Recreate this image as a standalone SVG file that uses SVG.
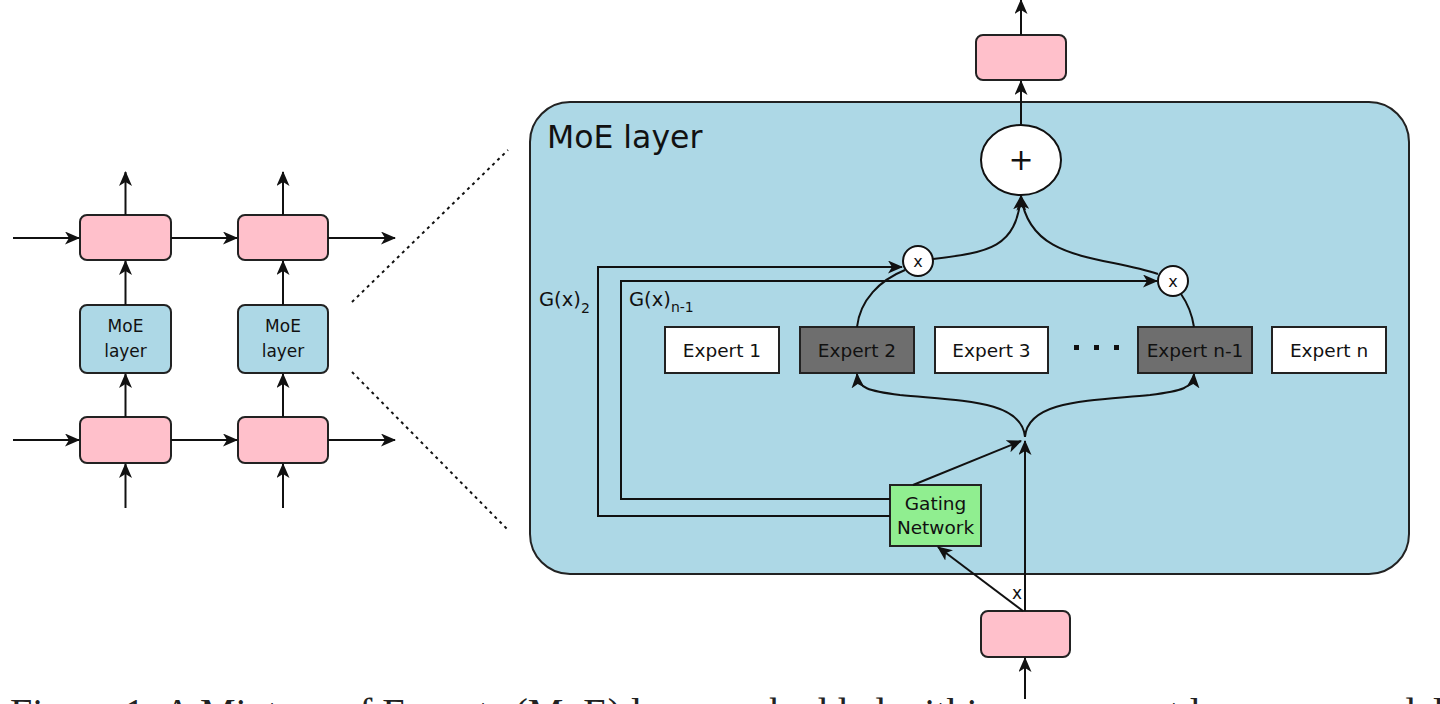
<svg xmlns="http://www.w3.org/2000/svg" width="1440" height="704" viewBox="0 0 1440 704">
<defs>
<marker id="ah" viewBox="0 0 15 13" refX="14" refY="6.5" markerWidth="15" markerHeight="13" markerUnits="userSpaceOnUse" orient="auto">
<path d="M0,0 L15,6.5 L0,13 L4,6.5 z" fill="#111"/>
</marker>
<style>
.ln{fill:none;stroke:#111;stroke-width:2}
.arr{fill:none;stroke:#111;stroke-width:2;marker-end:url(#ah)}
.pink{fill:#FFC0CB;stroke:#222;stroke-width:2}
.blue{fill:#ADD8E6;stroke:#222;stroke-width:2}
.exp{fill:#fff;stroke:#222;stroke-width:2}
.expd{fill:#6E6E6E;stroke:#222;stroke-width:2}
.t{font-family:"DejaVu Sans",sans-serif;fill:#111}
.dot{fill:none;stroke:#111;stroke-width:2;stroke-dasharray:3,4}
</style>
</defs>
<rect width="1440" height="704" fill="#fff"/>

<!-- left recurrent model -->
<g id="left-top-pink-1"><rect class="pink" x="80" y="215" width="91" height="45" rx="7"/></g>
<g id="left-top-pink-2"><rect class="pink" x="238" y="215" width="90" height="45" rx="7"/></g>
<g id="left-moe-1"><rect class="blue" x="80" y="305" width="91" height="68" rx="7"/>
<text class="t" x="125.5" y="332" font-size="17" text-anchor="middle">MoE</text>
<text class="t" x="125.5" y="357" font-size="17" text-anchor="middle">layer</text></g>
<g id="left-moe-2"><rect class="blue" x="238" y="305" width="90" height="68" rx="7"/>
<text class="t" x="283" y="332" font-size="17" text-anchor="middle">MoE</text>
<text class="t" x="283" y="357" font-size="17" text-anchor="middle">layer</text></g>
<g id="left-bot-pink-1"><rect class="pink" x="80" y="417" width="91" height="46" rx="7"/></g>
<g id="left-bot-pink-2"><rect class="pink" x="238" y="417" width="90" height="46" rx="7"/></g>

<!-- MoE layer container -->
<g id="moe-layer">
<rect x="530" y="102" width="879" height="472" rx="40" fill="#ADD8E6" stroke="#222" stroke-width="2"/>
<text class="t" x="547" y="148" font-size="31.5">MoE layer</text>
</g>
<g id="out-pink"><rect class="pink" x="976" y="35" width="90" height="45" rx="7"/></g>
<g id="in-pink"><rect class="pink" x="981" y="611" width="89" height="46" rx="7"/></g>
<g id="plus"><ellipse cx="1021" cy="160" rx="40" ry="35" fill="#fff" stroke="#111" stroke-width="2"/>
<text class="t" x="1021" y="170" font-size="30" text-anchor="middle">+</text></g>
<g id="mul-1"><circle cx="918" cy="261" r="15" fill="#fff" stroke="#111" stroke-width="2"/>
<text class="t" x="918" y="267" font-size="16" text-anchor="middle">x</text></g>
<g id="mul-2"><circle cx="1173" cy="281" r="15" fill="#fff" stroke="#111" stroke-width="2"/>
<text class="t" x="1173" y="287" font-size="16" text-anchor="middle">x</text></g>

<g id="expert-1"><rect class="exp" x="665" y="327" width="114" height="46"/><text class="t" x="722" y="357" font-size="18.5" text-anchor="middle">Expert 1</text></g>
<g id="expert-2"><rect class="expd" x="800" y="327" width="114" height="46"/><text class="t" x="857" y="357" font-size="18.5" text-anchor="middle">Expert 2</text></g>
<g id="expert-3"><rect class="exp" x="935" y="327" width="113" height="46"/><text class="t" x="991.5" y="357" font-size="18.5" text-anchor="middle">Expert 3</text></g>
<g id="dots"><rect x="1074" y="345" width="5" height="5" fill="#111"/><rect x="1094" y="345" width="5" height="5" fill="#111"/><rect x="1114" y="345" width="5" height="5" fill="#111"/></g>
<g id="expert-n-1"><rect class="expd" x="1138" y="327" width="114" height="46"/><text class="t" x="1195" y="357" font-size="18.5" text-anchor="middle">Expert n-1</text></g>
<g id="expert-n"><rect class="exp" x="1272" y="327" width="114" height="46"/><text class="t" x="1329" y="357" font-size="18.5" text-anchor="middle">Expert n</text></g>

<g id="gating"><rect x="890" y="485" width="91" height="61" fill="#90EE90" stroke="#222" stroke-width="2"/>
<text class="t" x="935.5" y="510" font-size="18.5" text-anchor="middle">Gating</text>
<text class="t" x="935.5" y="534" font-size="18.5" text-anchor="middle">Network</text></g>

<g id="labels">
<text class="t" x="539" y="306" font-size="19.5">G(x)<tspan font-size="14" dy="7">2</tspan></text>
<text class="t" x="629" y="306" font-size="19.5">G(x)<tspan font-size="14" dy="6">n-1</tspan></text>
<text class="t" x="1012" y="599" font-size="17">x</text>
</g>

<g id="connectors">
<!-- left -->
<path class="arr" d="M13,238 H79"/>
<path class="arr" d="M171,238 H237"/>
<path class="arr" d="M328,238 H395"/>
<path class="arr" d="M13,440 H79"/>
<path class="arr" d="M171,440 H237"/>
<path class="arr" d="M328,440 H395"/>
<path class="arr" d="M125.5,215 V172"/>
<path class="arr" d="M283,215 V172"/>
<path class="arr" d="M125.5,305 V261"/>
<path class="arr" d="M283,305 V261"/>
<path class="arr" d="M125.5,417 V374"/>
<path class="arr" d="M283,417 V374"/>
<path class="arr" d="M125.5,508 V464"/>
<path class="arr" d="M283,508 V464"/>
<!-- zoom lines -->
<path class="dot" d="M352,302 L508,150"/>
<path class="dot" d="M352,372 L508,530"/>
<!-- right -->
<path class="arr" d="M1021,35 V0"/>
<path class="arr" d="M1021,125 V81"/>
<path class="arr" d="M1025,699 V658"/>
<path class="arr" d="M1025,611 V441"/>
<path class="arr" d="M1023,611 L938,547"/>
<path class="arr" d="M913,485 L1021,441"/>
<path class="arr" d="M1025,437 C1022,400 960,401 900,395 C868,391 858,388 857,374"/>
<path class="arr" d="M1025,437 C1028,400 1090,401 1150,395 C1182,391 1193,388 1194,374"/>
<path class="ln" d="M857,327 C860,300 880,280 905,270"/>
<path class="ln" d="M1194,327 C1192,314 1188,304 1181,294"/>
<path class="arr" d="M933,259 C990,252 1016,248 1021,196"/>
<path class="arr" d="M1158,274 C1100,255 1030,262 1021,196"/>
<path class="arr" d="M890,516 H598 V267 H902"/>
<path class="arr" d="M890,499 H621 V281 H1157"/>
</g>

<text x="10" y="726" font-family="Liberation Serif, serif" font-size="40" fill="#222">Figure 1: A Mixture of Experts (MoE) layer embedded within a recurrent language model</text>
</svg>
